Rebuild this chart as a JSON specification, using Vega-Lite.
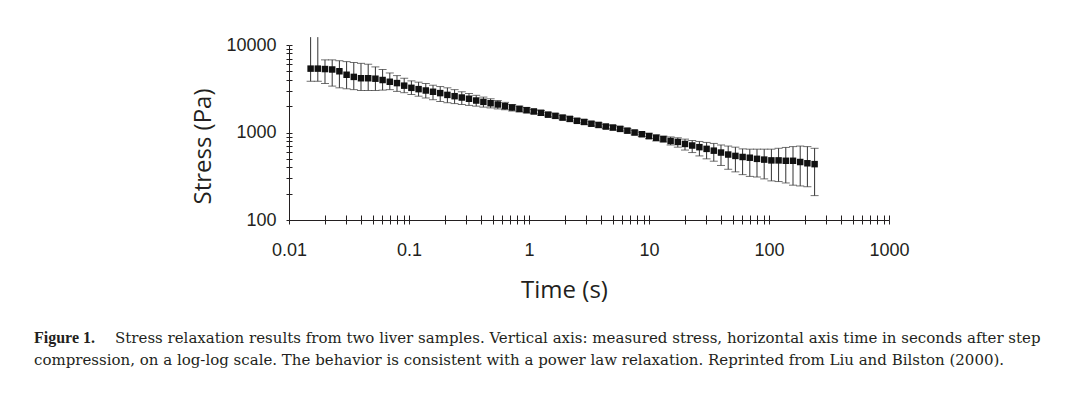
{
  "$schema": "https://vega.github.io/schema/vega-lite/v6.json",
  "autosize": {"type": "none"},
  "width": 600,
  "height": 175,
  "padding": {"left": 289, "top": 45, "right": 203, "bottom": 177},
  "background": "white",
  "config": {"view": {"stroke": null}, "axis": {"grid": false}},
  "title": {
    "text": "Figure 1.",
    "subtitle": [
      "\u200b\u00a0\u00a0\u00a0\u00a0\u00a0\u00a0\u00a0\u00a0\u00a0\u00a0\u00a0\u00a0\u00a0\u00a0\u00a0\u00a0\u00a0Stress relaxation results from two liver samples. Vertical axis: measured stress, horizontal axis time in seconds after step",
      "compression, on a log-log scale. The behavior is consistent with a power law relaxation. Reprinted from Liu and Bilston (2000)."
    ],
    "orient": "bottom",
    "anchor": "start",
    "frame": "group",
    "dx": -255,
    "offset": 28,
    "font": "Liberation Serif",
    "fontSize": 16,
    "fontWeight": "bold",
    "color": "#231f20",
    "subtitleFont": "DejaVu Serif",
    "subtitleFontSize": 15,
    "subtitleFontWeight": "normal",
    "subtitleColor": "#231f20",
    "subtitlePadding": -15.5,
    "subtitleLineHeight": 22
  },
  "data": {"values": [
    {"t":0.01514,"m":5370,"lo":3850,"hi":12300},
    {"t":0.01738,"m":5370,"lo":3850,"hi":12300},
    {"t":0.01995,"m":5310,"lo":3630,"hi":6760},
    {"t":0.02291,"m":5250,"lo":3390,"hi":6760},
    {"t":0.0263,"m":5010,"lo":3240,"hi":6610},
    {"t":0.0302,"m":4570,"lo":3160,"hi":6460},
    {"t":0.03467,"m":4320,"lo":3090,"hi":6310},
    {"t":0.03981,"m":4170,"lo":3020,"hi":6170},
    {"t":0.04571,"m":4170,"lo":3020,"hi":6030},
    {"t":0.05248,"m":4120,"lo":3020,"hi":5620},
    {"t":0.06026,"m":3980,"lo":3050,"hi":5250},
    {"t":0.06918,"m":3800,"lo":3090,"hi":4790},
    {"t":0.07943,"m":3670,"lo":2950,"hi":4470},
    {"t":0.0912,"m":3430,"lo":2850,"hi":4170},
    {"t":0.1047,"m":3240,"lo":2720,"hi":3890},
    {"t":0.1202,"m":3130,"lo":2600,"hi":3760},
    {"t":0.138,"m":3020,"lo":2480,"hi":3630},
    {"t":0.1585,"m":2920,"lo":2370,"hi":3470},
    {"t":0.182,"m":2820,"lo":2260,"hi":3350},
    {"t":0.2089,"m":2690,"lo":2190,"hi":3240},
    {"t":0.2399,"m":2600,"lo":2140,"hi":3090},
    {"t":0.2754,"m":2510,"lo":2090,"hi":2920},
    {"t":0.3162,"m":2430,"lo":2040,"hi":2790},
    {"t":0.3631,"m":2320,"lo":2000,"hi":2660},
    {"t":0.4169,"m":2240,"lo":1950,"hi":2540},
    {"t":0.4786,"m":2160,"lo":1910,"hi":2430},
    {"t":0.5495,"m":2090,"lo":1860,"hi":2320},
    {"t":0.631,"m":2000,"lo":1820,"hi":2210},
    {"t":0.7244,"m":1930,"lo":1760,"hi":2090},
    {"t":0.8318,"m":1860,"lo":1720,"hi":2000},
    {"t":0.955,"m":1800,"lo":1680,"hi":1930},
    {"t":1.096,"m":1740,"lo":1640,"hi":1840},
    {"t":1.259,"m":1680,"lo":1580,"hi":1780},
    {"t":1.445,"m":1600,"lo":1510,"hi":1700},
    {"t":1.66,"m":1550,"lo":1460,"hi":1640},
    {"t":1.905,"m":1480,"lo":1400,"hi":1570},
    {"t":2.188,"m":1430,"lo":1350,"hi":1510},
    {"t":2.512,"m":1360,"lo":1290,"hi":1450},
    {"t":2.884,"m":1320,"lo":1240,"hi":1400},
    {"t":3.311,"m":1260,"lo":1190,"hi":1330},
    {"t":3.802,"m":1220,"lo":1150,"hi":1290},
    {"t":4.365,"m":1170,"lo":1110,"hi":1240},
    {"t":5.012,"m":1140,"lo":1070,"hi":1200},
    {"t":5.754,"m":1100,"lo":1040,"hi":1160},
    {"t":6.607,"m":1050,"lo":990,"hi":1110},
    {"t":7.586,"m":1000,"lo":940,"hi":1060},
    {"t":8.71,"m":955,"lo":900,"hi":1010},
    {"t":10,"m":910,"lo":850,"hi":980},
    {"t":11.48,"m":870,"lo":800,"hi":940},
    {"t":13.18,"m":840,"lo":780,"hi":910},
    {"t":15.14,"m":800,"lo":720,"hi":890},
    {"t":17.38,"m":780,"lo":680,"hi":870},
    {"t":19.95,"m":740,"lo":630,"hi":840},
    {"t":22.91,"m":710,"lo":590,"hi":810},
    {"t":26.3,"m":680,"lo":540,"hi":790},
    {"t":30.2,"m":650,"lo":500,"hi":770},
    {"t":34.67,"m":620,"lo":470,"hi":750},
    {"t":39.81,"m":590,"lo":420,"hi":720},
    {"t":45.71,"m":560,"lo":380,"hi":700},
    {"t":52.48,"m":540,"lo":355,"hi":680},
    {"t":60.26,"m":525,"lo":330,"hi":650},
    {"t":69.18,"m":515,"lo":315,"hi":645},
    {"t":79.43,"m":500,"lo":310,"hi":645},
    {"t":91.2,"m":490,"lo":295,"hi":645},
    {"t":104.7,"m":480,"lo":280,"hi":645},
    {"t":120.2,"m":480,"lo":275,"hi":660},
    {"t":138,"m":475,"lo":265,"hi":675},
    {"t":158.5,"m":475,"lo":250,"hi":690},
    {"t":182,"m":460,"lo":245,"hi":700},
    {"t":208.9,"m":445,"lo":240,"hi":690},
    {"t":239.9,"m":435,"lo":190,"hi":660}
  ]},
  "resolve": {"axis": {"x": "independent", "y": "independent"}},
  "layer": [
    {
      "mark": {"type": "rule", "color": "#333333", "strokeWidth": 1, "clip": false},
      "encoding": {
        "x": {"field": "t", "type": "quantitative",
          "scale": {"type": "log", "domain": [0.01, 1000], "nice": false},
          "axis": {
            "orient": "bottom",
            "values": [0.01,0.02,0.03,0.04,0.05,0.06,0.07,0.08,0.09,0.1,0.2,0.3,0.4,0.5,0.6,0.7,0.8,0.9,1,2,3,4,5,6,7,8,9,10,20,30,40,50,60,70,80,90,100,200,300,400,500,600,700,800,900,1000],
            "labelExpr": "indexof(['0.01','0.1','1','10','100','1000'], format(datum.value, '~g')) >= 0 ? format(datum.value, '~g') : ''",
            "labelOverlap": false, "labelBound": false, "labelFlush": false,
            "labelFont": "Liberation Sans", "labelFontSize": 18, "labelColor": "#231f20",
            "labelPadding": 17,
            "tickSize": 4, "tickColor": "#231f20", "tickWidth": 1,
            "domainColor": "#231f20", "domainWidth": 1,
            "title": "Time (s)", "titleFont": "Open Sans", "titleFontSize": 24, "titleFontWeight": "normal",
            "titleColor": "#231f20", "titleX": 275, "titleY": 77, "titleBaseline": "alphabetic", "titleAlign": "center"
          }
        },
        "y": {"field": "lo", "type": "quantitative",
          "scale": {"type": "log", "domain": [100, 10000], "nice": false},
          "axis": {
            "orient": "left",
            "values": [100,200,300,400,500,600,700,800,900,1000,2000,3000,4000,5000,6000,7000,8000,9000,10000],
            "labelExpr": "indexof(['100','1000','10000'], format(datum.value, '~g')) >= 0 ? format(datum.value, '~g') : ''",
            "labelOverlap": false, "labelBound": false, "labelFlush": false,
            "labelFont": "Liberation Sans", "labelFontSize": 18, "labelColor": "#231f20",
            "labelPadding": 10,
            "tickSize": 3, "tickColor": "#231f20", "tickWidth": 1,
            "domainColor": "#231f20", "domainWidth": 1,
            "title": "Stress (Pa)", "titleFont": "Open Sans", "titleFontSize": 24, "titleFontWeight": "normal",
            "titleColor": "#231f20", "titleX": -79, "titleY": 101, "titleAngle": -90, "titleBaseline": "alphabetic", "titleAlign": "center"
          }
        },
        "y2": {"field": "hi"}
      }
    },
    {
      "transform": [{"filter": "datum.t > 0.018"}],
      "mark": {"type": "tick", "orient": "horizontal", "color": "#333333", "size": 8, "thickness": 1, "clip": false},
      "encoding": {
        "x": {"field": "t", "type": "quantitative", "scale": {"type": "log"}, "axis": null},
        "y": {"field": "hi", "type": "quantitative", "scale": {"type": "log"}, "axis": null}
      }
    },
    {
      "mark": {"type": "tick", "orient": "horizontal", "color": "#333333", "size": 8, "thickness": 1, "clip": false},
      "encoding": {
        "x": {"field": "t", "type": "quantitative", "scale": {"type": "log"}, "axis": null},
        "y": {"field": "lo", "type": "quantitative", "scale": {"type": "log"}, "axis": null}
      }
    },
    {
      "mark": {"type": "square", "color": "#111111", "filled": true, "size": 42, "opacity": 1},
      "encoding": {
        "x": {"field": "t", "type": "quantitative", "scale": {"type": "log"},
          "axis": {"orient": "bottom", "values": [0.01,0.02,0.03,0.04,0.05,0.06,0.07,0.08,0.09,0.1,0.2,0.3,0.4,0.5,0.6,0.7,0.8,0.9,1,2,3,4,5,6,7,8,9,10,20,30,40,50,60,70,80,90,100,200,300,400,500,600,700,800,900,1000],
            "labels": false, "domain": false, "tickSize": -5, "tickColor": "#231f20", "tickWidth": 1, "title": null}
        },
        "y": {"field": "m", "type": "quantitative", "scale": {"type": "log"},
          "axis": {"orient": "left", "values": [100,200,300,400,500,600,700,800,900,1000,2000,3000,4000,5000,6000,7000,8000,9000,10000],
            "labels": false, "domain": false, "tickSize": -3, "tickColor": "#231f20", "tickWidth": 1, "title": null}
        }
      }
    }
  ]
}
